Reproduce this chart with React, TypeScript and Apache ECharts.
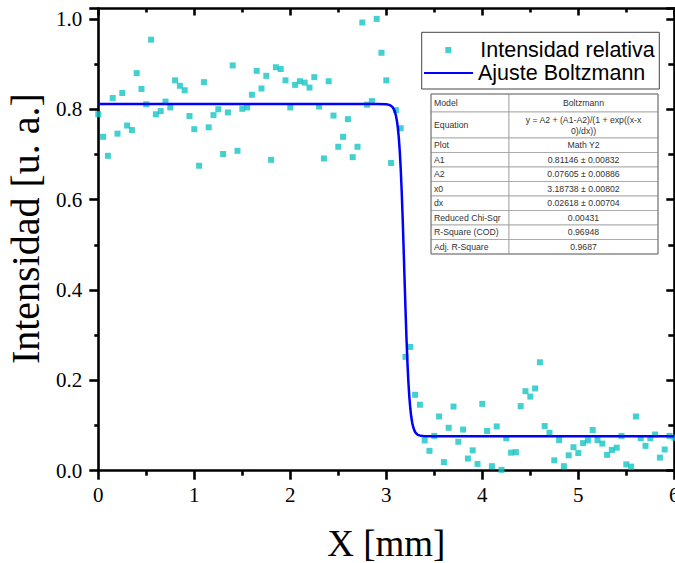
import React, { useEffect, useRef } from "react";
import * as echarts from "echarts";

// Measured positions (mm)
const xValues = [
  0, 0.05, 0.1, 0.15, 0.2, 0.25, 0.3, 0.35, 0.4, 0.45,
  0.5, 0.55, 0.6, 0.65, 0.7, 0.75, 0.8, 0.85, 0.9, 0.95,
  1, 1.05, 1.1, 1.15, 1.2, 1.25, 1.3, 1.35, 1.4, 1.45,
  1.5, 1.55, 1.6, 1.65, 1.7, 1.75, 1.8, 1.85, 1.9, 1.95,
  2, 2.05, 2.1, 2.15, 2.2, 2.25, 2.3, 2.35, 2.4, 2.45,
  2.5, 2.55, 2.6, 2.65, 2.7, 2.75, 2.8, 2.85, 2.9, 2.95,
  3, 3.05, 3.1, 3.15, 3.2, 3.25, 3.3, 3.35, 3.4, 3.45,
  3.5, 3.55, 3.6, 3.65, 3.7, 3.75, 3.8, 3.85, 3.9, 3.95,
  4, 4.05, 4.1, 4.15, 4.2, 4.25, 4.3, 4.35, 4.4, 4.45,
  4.5, 4.55, 4.6, 4.65, 4.7, 4.75, 4.8, 4.85, 4.9, 4.95,
  5, 5.05, 5.1, 5.15, 5.2, 5.25, 5.3, 5.35, 5.4, 5.45,
  5.5, 5.55, 5.6, 5.65, 5.7, 5.75, 5.8, 5.85, 5.9, 5.95,
  6,
];

// Relative intensity (a.u.)
const intensity = [
  0.789, 0.739, 0.697, 0.825, 0.746, 0.836, 0.764, 0.754, 0.88, 0.845,
  0.811, 0.954, 0.789, 0.796, 0.817, 0.804, 0.864, 0.852, 0.842, 0.785,
  0.756, 0.675, 0.86, 0.76, 0.787, 0.8, 0.701, 0.793, 0.897, 0.708,
  0.801, 0.804, 0.832, 0.885, 0.846, 0.874, 0.688, 0.893, 0.889, 0.864,
  0.804, 0.854, 0.862, 0.859, 0.848, 0.871, 0.806, 0.691, 0.862, 0.786,
  0.717, 0.739, 0.778, 0.694, 0.717, 0.992, 0.81, 0.818, 1.0, 0.925,
  0.864, 0.681, 0.798, 0.758, 0.252, 0.274, 0.168, 0.146, 0.067, 0.044,
  0.077, 0.12, 0.019, 0.095, 0.142, 0.064, 0.091, 0.027, 0.045, 0.015,
  0.148, 0.088, 0.01, 0.098, 0.002, 0.072, 0.04, 0.041, 0.143, 0.176,
  0.164, 0.182, 0.24, 0.099, 0.084, 0.023, 0.068, 0.01, 0.034, 0.052,
  0.039, 0.061, 0.067, 0.09, 0.068, 0.06, 0.035, 0.046, 0.051, 0.077,
  0.014, 0.009, 0.12, 0.072, 0.055, 0.072, 0.08, 0.029, 0.047, 0.077,
  0.073,
];

// Fitted curve
const fitX = [
  0, 2.9, 3.0, 3.03, 3.05, 3.065, 3.08, 3.09, 3.1, 3.11, 3.12, 3.13, 3.14,
  3.15, 3.16, 3.17, 3.18, 3.19, 3.2, 3.21, 3.22, 3.23, 3.24, 3.25, 3.26,
  3.27, 3.28, 3.29, 3.3, 3.315, 3.33, 3.36, 3.4, 3.5, 6,
];
const fitY = [
  0.8115, 0.8115, 0.8109, 0.8097, 0.8076, 0.8046, 0.7995, 0.7941, 0.7862,
  0.7751, 0.7594, 0.7376, 0.708, 0.6692, 0.6203, 0.5615, 0.4953, 0.4254,
  0.3568, 0.2941, 0.2404, 0.1967, 0.163, 0.1377, 0.1193, 0.1061, 0.0968,
  0.0904, 0.0859, 0.0816, 0.0792, 0.0771, 0.0763, 0.0761, 0.0761,
];

const seriesNames = ["Intensidad relativa", "Ajuste Boltzmann"];
const axisTitles = ["X [mm]", "Intensidad [u. a.]"];

const tableLabels = [
  "Model", "Equation", "Plot", "A1", "A2", "x0", "dx",
  "Reduced Chi-Sqr", "R-Square (COD)", "Adj. R-Square",
];
const tableValues = [
  "Boltzmann",
  "y = A2 + (A1-A2)/(1 + exp((x-x\n0)/dx))",
  "Math Y2",
  "0.81146 ± 0.00832",
  "0.07605 ± 0.00886",
  "3.18738 ± 0.00802",
  "0.02618 ± 0.00704",
  "0.00431",
  "0.96948",
  "0.9687",
];

const SERIF = "Liberation Serif";
const SANS = "Liberation Sans";

function buildTable(): any[] {
  const left = 431;
  const mid = 509;
  const right = 658;
  const top = 94;
  const heights = [18, 26, 14.5, 14.5, 14.5, 14.5, 14.5, 14.5, 14.5, 14.5];
  const els: any[] = [];
  let y = top;
  tableLabels.forEach((lab, i) => {
    const h = heights[i];
    els.push({
      type: "rect",
      shape: { x: left, y, width: mid - left, height: h },
      style: { fill: "#fff", stroke: "#a0a0a0", lineWidth: 0.8 },
      z: 10,
    });
    els.push({
      type: "rect",
      shape: { x: mid, y, width: right - mid, height: h },
      style: { fill: "#fff", stroke: "#a0a0a0", lineWidth: 0.8 },
      z: 10,
    });
    els.push({
      type: "text",
      x: left + 3,
      y: y + h / 2,
      style: {
        text: lab,
        fontSize: 8.7,
        fontFamily: SANS,
        fill: "#333",
        verticalAlign: "middle",
        align: "left",
      },
      z: 11,
    });
    els.push({
      type: "text",
      x: (mid + right) / 2,
      y: y + h / 2,
      style: {
        text: tableValues[i],
        fontSize: 8.7,
        fontFamily: SANS,
        fill: "#333",
        verticalAlign: "middle",
        align: "center",
        lineHeight: 11,
      },
      z: 11,
    });
    y += h;
  });
  els.push({
    type: "rect",
    shape: { x: left, y: top, width: right - left, height: y - top },
    style: { fill: "none", stroke: "#777", lineWidth: 1 },
    z: 12,
  });
  return els;
}

export default function App() {
  const ref = useRef<HTMLDivElement>(null);
  useEffect(() => {
    if (!ref.current) return;
    const chart = echarts.init(ref.current, undefined, { renderer: "svg" });
    const scatterData = xValues.map((x, i) => [x, intensity[i]]);
    const fitData = fitX.map((x, i) => [x, fitY[i]]);
    const labelStyle = { fontFamily: SERIF, fontSize: 21, color: "#000" };
    const option: any = {
      animation: false,
      backgroundColor: "#fff",
      grid: {
        left: 98.3,
        right: 0.7,
        top: 8.5,
        bottom: 92.3,
        containLabel: false,
        outerBoundsMode: "none",
      },
      xAxis: [
        {
          type: "value",
          min: 0,
          max: 6,
          interval: 1,
          name: axisTitles[0],
          nameLocation: "middle",
          nameGap: 54,
          nameTextStyle: { fontFamily: SERIF, fontSize: 37, color: "#000" },
          axisLine: { show: true, onZero: false, lineStyle: { color: "#000", width: 2.6 } },
          axisTick: { show: true, inside: false, length: 9, lineStyle: { color: "#000", width: 2.6 } },
          minorTick: { show: true, splitNumber: 2, length: 5, lineStyle: { color: "#000", width: 2.6 } },
          axisLabel: { ...labelStyle, margin: 14 },
          splitLine: { show: false },
        },
        {
          type: "value",
          position: "top",
          min: 0,
          max: 6,
          interval: 1,
          axisLine: { show: true, onZero: false, lineStyle: { color: "#000", width: 2.6 } },
          axisTick: { show: true, inside: true, length: 7, lineStyle: { color: "#000", width: 2.6 } },
          minorTick: { show: true, splitNumber: 2, length: 4, lineStyle: { color: "#000", width: 2.6 } },
          axisLabel: { show: false },
          splitLine: { show: false },
        },
      ],
      yAxis: [
        {
          type: "value",
          min: 0,
          max: 1.023,
          interval: 0.2,
          name: axisTitles[1],
          nameLocation: "middle",
          nameGap: 47,
          nameTextStyle: { fontFamily: SERIF, fontSize: 40, color: "#000", padding: [0, 0, 0, 22] },
          axisLine: { show: true, onZero: false, lineStyle: { color: "#000", width: 2.6 } },
          axisTick: { show: true, inside: false, length: 9, lineStyle: { color: "#000", width: 2.6 } },
          minorTick: { show: true, splitNumber: 2, length: 4, lineStyle: { color: "#000", width: 2.6 } },
          axisLabel: {
            ...labelStyle,
            margin: 16,
            showMaxLabel: false,
            formatter: (v: number) => v.toFixed(1),
          },
          splitLine: { show: false },
        },
        {
          type: "value",
          position: "right",
          min: 0,
          max: 1.023,
          interval: 0.2,
          axisLine: { show: true, onZero: false, lineStyle: { color: "#000", width: 2.6 } },
          axisTick: { show: true, inside: true, length: 8, lineStyle: { color: "#000", width: 2.6 } },
          minorTick: { show: true, splitNumber: 2, length: 6, lineStyle: { color: "#000", width: 2.6 } },
          axisLabel: { show: false },
          splitLine: { show: false },
        },
      ],
      legend: [
        {
          data: [{ name: seriesNames[0], icon: "rect" }],
          left: 445.3,
          top: 39,
          padding: 0,
          itemWidth: 6,
          itemHeight: 6,
          selectedMode: false,
          formatter: (name: string) => "{g|}" + name,
          textStyle: {
            fontFamily: SANS,
            fontSize: 21.5,
            color: "#000",
            rich: { g: { width: 24, fontSize: 21.5 } },
          },
        },
        {
          data: [{ name: seriesNames[1], icon: "rect" }],
          left: 424,
          top: 62,
          padding: 0,
          itemWidth: 49,
          itemHeight: 2.2,
          selectedMode: false,
          textStyle: { fontFamily: SANS, fontSize: 21.5, color: "#000" },
        },
      ],
      graphic: [
        {
          type: "rect",
          shape: { x: 421.7, y: 32.3, width: 237.6, height: 56.7 },
          style: { fill: "#fff", stroke: "#444", lineWidth: 1 },
          z: 3,
        },
        ...buildTable(),
      ],
      series: [
        {
          name: seriesNames[0],
          type: "scatter",
          symbol: "rect",
          symbolSize: 6,
          itemStyle: { color: "#14c4c4" },
          data: scatterData,
          z: 2,
        },
        {
          name: seriesNames[1],
          type: "line",
          showSymbol: false,
          symbol: "none",
          lineStyle: { color: "#0000ff", width: 2.5 },
          itemStyle: { color: "#0000ff" },
          data: fitData,
          z: 3,
        },
      ],
    };
    chart.setOption(option);
    return () => chart.dispose();
  }, []);
  return (
    <div
      ref={ref}
      style={{ position: "fixed", left: 0, top: 0, width: 675, height: 563, background: "#fff" }}
    />
  );
}
